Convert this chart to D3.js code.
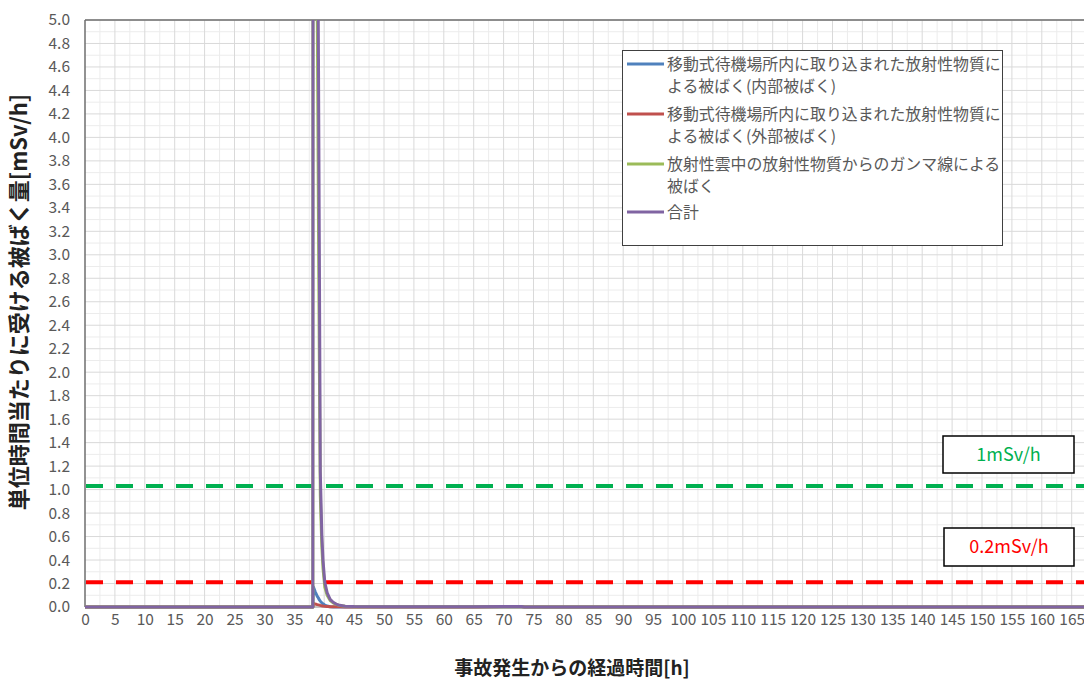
<!DOCTYPE html>
<html><head><meta charset="utf-8">
<script src="https://cdn.jsdelivr.net/npm/d3@7"></script>
<style>
html,body{margin:0;padding:0;background:#fff;}
svg{display:block;font-family:"Noto Sans CJK JP","Noto Sans",sans-serif;}
</style></head>
<body>
<svg id="chart" width="1084" height="682"></svg>
<script>
// ---- data ----
const time      = [0, 38.1, 38.2, 38.5, 38.85, 39.05, 39.2, 39.35, 39.6, 39.8, 40.1, 40.5, 41.0, 41.5, 42.0, 42.6, 43.5, 45, 50, 60, 65, 70, 73, 73.5, 168];
const internal  = [0, 0, 0.17, 0.13, 0.09, 0.075, 0.06, 0.05, 0.035, 0.027, 0.017, 0.008, 0.002, 0.001, 0, 0, 0, 0, 0, 0, 0, 0, 0, 0, 0];
const external  = [0, 0, 0.03, 0.025, 0.02, 0.018, 0.016, 0.014, 0.011, 0.009, 0.007, 0.005, 0.003, 0.002, 0.002, 0.002, 0.001, 0.001, 0.001, 0.001, 0.001, 0.002, 0.002, 0, 0];
const cloud     = [0, 0, 19.5, 11, 5.0, 3.2, 2.0, 0.95, 0.52, 0.33, 0.17, 0.1, 0.055, 0.035, 0.022, 0.012, 0.006, 0.003, 0.002, 0.002, 0.002, 0.002, 0.002, 0, 0];
const total     = [0, 0, 20, 13, 6.5, 4.6, 2.9, 1.15, 0.62, 0.4, 0.21, 0.12, 0.065, 0.04, 0.025, 0.014, 0.007, 0.004, 0.003, 0.003, 0.003, 0.004, 0.004, 0, 0];

const seriesNames = [
  ["移動式待機場所内に取り込まれた放射性物質に", "よる被ばく(内部被ばく)"],
  ["移動式待機場所内に取り込まれた放射性物質に", "よる被ばく(外部被ばく)"],
  ["放射性雲中の放射性物質からのガンマ線による", "被ばく"],
  ["合計"]
];
const seriesColors = ["#4f81bd", "#c0504d", "#9bbb59", "#8064a2"];
const seriesValues = [internal, external, cloud, total];

const refLevels = [1.03, 0.21];
const refLabels = ["1mSv/h", "0.2mSv/h"];
const refColors = ["#00b050", "#ff0000"];

const xTicks = d3.range(0, 166, 5);
const yTicks = d3.range(0, 5.01, 0.2);
const xTitle = "事故発生からの経過時間[h]";
const yTitle = "単位時間当たりに受ける被ばく量[mSv/h]";

// ---- layout ----
const svg = d3.select("#chart");
const pL = 85, pT = 20, pB = 607;
const x = d3.scaleLinear().domain([0, 165]).range([pL, pL + 165 * 5.98]);
const y = d3.scaleLinear().domain([0, 5]).range([pB, pT]);
const xEnd = x(170);

// grid
const g = svg.append("g");
g.selectAll(".vmin").data(d3.range(2.5, 170, 5)).enter().append("line")
  .attr("x1", d => x(d)).attr("x2", d => x(d)).attr("y1", pT).attr("y2", pB)
  .attr("stroke", "#ececec").attr("stroke-width", 1);
g.selectAll(".hmin").data(d3.range(0.1, 5, 0.2)).enter().append("line")
  .attr("x1", pL).attr("x2", xEnd).attr("y1", d => y(d)).attr("y2", d => y(d))
  .attr("stroke", "#ececec").attr("stroke-width", 1);
g.selectAll(".vmaj").data(d3.range(5, 170, 5)).enter().append("line")
  .attr("x1", d => x(d)).attr("x2", d => x(d)).attr("y1", pT).attr("y2", pB)
  .attr("stroke", "#d9d9d9").attr("stroke-width", 1);
g.selectAll(".hmaj").data(yTicks.slice(1)).enter().append("line")
  .attr("x1", pL).attr("x2", xEnd).attr("y1", d => y(d)).attr("y2", d => y(d))
  .attr("stroke", "#d9d9d9").attr("stroke-width", 1);

// frame
svg.append("line").attr("x1", pL).attr("x2", xEnd).attr("y1", pT).attr("y2", pT)
  .attr("stroke", "#6e6e6e").attr("stroke-width", 1.5);
svg.append("line").attr("x1", pL).attr("x2", pL).attr("y1", pT).attr("y2", pB)
  .attr("stroke", "#6e6e6e").attr("stroke-width", 1.5);
svg.append("line").attr("x1", pL).attr("x2", xEnd).attr("y1", pB).attr("y2", pB)
  .attr("stroke", "#888").attr("stroke-width", 1);

// axes
const xAxis = d3.axisBottom(x).tickValues(xTicks).tickSize(0).tickPadding(6).tickFormat(d3.format("d"));
const xa = svg.append("g").attr("transform", `translate(0,${pB + 1})`).call(xAxis);
xa.select(".domain").remove();
xa.selectAll("text").attr("fill", "#595959").style("font-size", "15.5px")
  .style("font-family", "'Noto Sans CJK JP', sans-serif");

const yAxis = d3.axisLeft(y).tickValues(yTicks).tickSize(0).tickPadding(15).tickFormat(d3.format(".1f"));
const ya = svg.append("g").attr("transform", `translate(${pL},0)`).call(yAxis);
ya.select(".domain").remove();
ya.selectAll("text").attr("fill", "#595959").style("font-size", "15.5px")
  .style("font-family", "'Noto Sans CJK JP', sans-serif");

// reference dashed lines
refLevels.forEach((v, i) => {
  svg.append("line").attr("x1", pL + 1).attr("x2", 1084).attr("y1", y(v)).attr("y2", y(v))
    .attr("stroke", refColors[i]).attr("stroke-width", 4).attr("stroke-dasharray", "17,13");
});

// series
svg.append("clipPath").attr("id", "clip").append("rect")
  .attr("x", pL).attr("y", pT).attr("width", xEnd - pL).attr("height", pB - pT + 3);
const line = d3.line().x(d => x(d[0])).y(d => y(d[1]));
const sg = svg.append("g").attr("clip-path", "url(#clip)");
seriesValues.forEach((vals, i) => {
  sg.append("path").datum(time.map((t, k) => [t, vals[k]]))
    .attr("d", line).attr("fill", "none").attr("stroke", seriesColors[i])
    .attr("stroke-width", 3).attr("stroke-linejoin", "round");
});

// reference boxes
const boxes = [{x: 943, y: 436, w: 131, h: 37}, {x: 944, y: 528, w: 130, h: 38}];
boxes.forEach((b, i) => {
  svg.append("rect").attr("x", b.x).attr("y", b.y).attr("width", b.w).attr("height", b.h)
    .attr("fill", "#fff").attr("stroke", "#000").attr("stroke-width", 1.5);
  svg.append("text").attr("x", b.x + b.w / 2).attr("y", b.y + b.h / 2).attr("dy", "0.35em")
    .attr("text-anchor", "middle").attr("fill", refColors[i]).style("font-size", "18px")
    .text(refLabels[i]);
});

// legend
const lg = svg.append("g");
lg.append("rect").attr("x", 622.5).attr("y", 50.5).attr("width", 380).attr("height", 195)
  .attr("fill", "#fff").attr("stroke", "#404040").attr("stroke-width", 1);
const entryY = [64, 114, 164, 212];
seriesNames.forEach((lines, i) => {
  lg.append("line").attr("x1", 627).attr("x2", 664).attr("y1", entryY[i]).attr("y2", entryY[i])
    .attr("stroke", seriesColors[i]).attr("stroke-width", 3);
  lines.forEach((t, j) => {
    lg.append("text").attr("x", 667).attr("y", entryY[i] + j * 22).attr("dy", "0.35em")
      .attr("fill", "#595959").style("font-size", "15.9px").text(t);
  });
});

// titles
svg.append("text").attr("x", 572).attr("y", 668).attr("dy", "0.35em").attr("text-anchor", "middle")
  .attr("fill", "#222").style("font-size", "19px").style("font-weight", "bold").text(xTitle);
svg.append("text").attr("transform", "translate(19,302) rotate(-90)").attr("dy", "0.35em")
  .attr("text-anchor", "middle").attr("fill", "#222").style("font-size", "22px").style("font-weight", "bold")
  .text(yTitle);
</script>
</body></html>
